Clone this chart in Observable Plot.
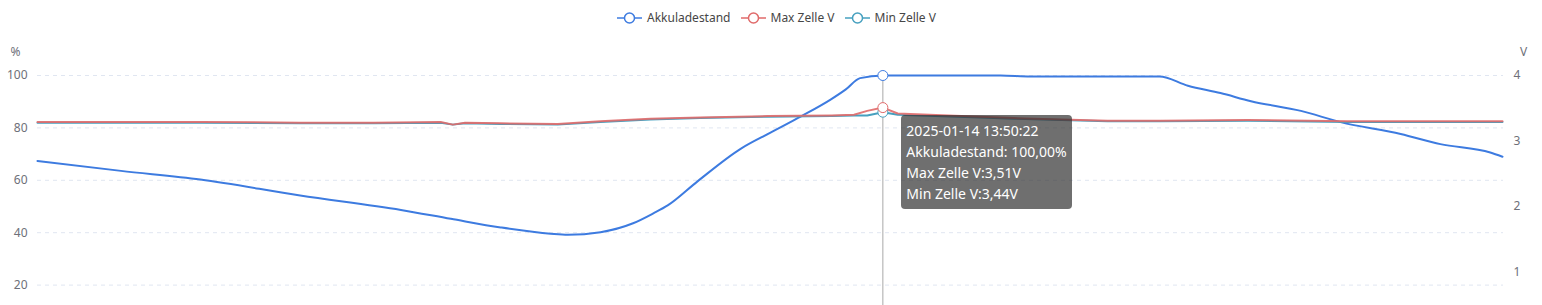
<!DOCTYPE html>
<html>
<head>
<meta charset="utf-8">
<script src="https://cdn.jsdelivr.net/npm/d3@7"></script>
<script src="https://cdn.jsdelivr.net/npm/@observablehq/plot@0.6"></script>
<style>
  html, body { margin: 0; padding: 0; background: #fff; overflow: hidden; }
  #wrap { position: relative; width: 1542px; height: 305px; overflow: hidden; font-family: "Noto Sans", "DejaVu Sans", sans-serif; }
  #chart svg { display: block; }
  #legend { position: absolute; top: 9px; left: 617px; display: flex; align-items: center; gap: 10px; font-size: 12px; color: #464646; }
  #legend .item { display: flex; align-items: center; }
  #legend .item span { margin-left: 5px; }
  #tip { position: absolute; background: rgba(50,50,50,0.7); color: #fff; border-radius: 4px; padding: 5px 5px 5px 5px; font-size: 14px; line-height: 21px; white-space: nowrap; }
</style>
</head>
<body>
<div id="wrap">
  <div id="chart"></div>
  <div id="legend"></div>
  <div id="tip"></div>
</div>
<script>
// ---- data ----
const day = "2025-01-14";
const seriesNames = ["Akkuladestand", "Max Zelle V", "Min Zelle V"];
const seriesColors = ["#3d7be0", "#e06a6a", "#46a0bf"];
const leftTicks = [20, 40, 60, 80, 100];   // 0 lies below the visible area
const rightTicks = [1, 2, 3, 4];
const tooltipTime = "13:50:22";

const socTimes = ["00:00","01:22","02:40","04:18","05:57","06:46","07:35","08:24","08:41","09:13","09:45","10:05","10:19","10:48","11:31","12:00","12:30","12:59","13:14","13:28","13:50:22","15:46","16:15","18:22","18:50","19:22","19:52","20:41","21:20","22:19","22:58","23:47","23:59"];
const socValues = [67.4,63.6,60.3,54.2,48.7,45.3,42.0,39.6,39.2,40.2,43.6,47.4,50.4,59.5,72.1,78.2,84.4,90.8,94.7,99.0,100,100,99.6,99.6,96.1,93.3,90.2,86.5,82.2,77.7,73.8,70.6,69.0];

const cellTimes = ["00:00","01:30","02:40","04:18","05:30","06:36","06:48","07:00","07:35","08:31","09:13","10:02","10:51","11:57","13:00","13:22","13:35","13:50:22","14:05","15:26","15:59","17:31","18:23","19:49","21:27","22:40","23:59"];
const maxValues = [3.29,3.29,3.29,3.28,3.28,3.29,3.25,3.28,3.27,3.26,3.30,3.34,3.36,3.38,3.39,3.40,3.46,3.51,3.42,3.37,3.35,3.31,3.31,3.32,3.30,3.30,3.30];
const minValues = [3.28,3.28,3.28,3.27,3.27,3.28,3.25,3.27,3.26,3.25,3.29,3.33,3.35,3.37,3.38,3.39,3.39,3.44,3.40,3.36,3.34,3.30,3.30,3.31,3.29,3.29,3.29];

// ---- build ----
const parse = t => new Date(day + "T" + t + "Z");
const soc = socTimes.map((t, i) => ({t: parse(t), v: socValues[i]}));
const cell = cellTimes.map((t, i) => ({t: parse(t), max: maxValues[i], min: minValues[i]}));
const k = 100 / 4; // right axis: 4 V corresponds to 100 %
const tipT = parse(tooltipTime);
const socTip = soc.filter(d => +d.t === +tipT);
const cellTip = cell.filter(d => +d.t === +tipT);
const [blue, red, teal] = seriesColors;

const plot = Plot.plot({
  width: 1542,
  height: 380,
  marginTop: 75,
  marginBottom: 43,
  marginLeft: 37,
  marginRight: 39,
  style: {fontFamily: "'Noto Sans', 'DejaVu Sans', sans-serif", fontSize: "12px", color: "#6e7079", background: "#fff"},
  x: {type: "utc", domain: [parse("00:00"), new Date(Date.UTC(2025, 0, 15))], axis: null},
  y: {domain: [0, 100]},
  marks: [
    Plot.gridY(leftTicks, {stroke: "#e0e6f1", strokeOpacity: 1, strokeDasharray: "4,4"}),
    Plot.axisY(leftTicks, {anchor: "left", tickSize: 0, tickPadding: 10, label: null, fill: "#6e7079"}),
    Plot.axisY(rightTicks.map(d => d * k), {anchor: "right", tickSize: 0, tickPadding: 10, label: null, tickFormat: d => d / k, fill: "#6e7079"}),
    Plot.ruleY([0], {stroke: "#6e7079"}),
    Plot.text(["%"], {frameAnchor: "top-left", dx: -22, dy: -23, textAnchor: "middle", lineAnchor: "middle", fill: "#6e7079"}),
    Plot.text(["V"], {frameAnchor: "top-right", dx: 20, dy: -23, textAnchor: "middle", lineAnchor: "middle", fill: "#6e7079"}),
    Plot.ruleX([tipT], {stroke: "#a8a8a8", strokeWidth: 1}),
    Plot.lineY(soc, {x: "t", y: "v", stroke: blue, strokeWidth: 2, curve: "monotone-x"}),
    Plot.lineY(cell, {x: "t", y: d => d.min * k, stroke: teal, strokeWidth: 2}),
    Plot.lineY(cell, {x: "t", y: d => d.max * k, stroke: red, strokeWidth: 2, strokeOpacity: 0.9}),
    Plot.dot(socTip, {x: "t", y: "v", r: 5, fill: "white", stroke: blue, strokeWidth: 1}),
    Plot.dot(cellTip, {x: "t", y: d => d.min * k, r: 5, fill: "white", stroke: teal, strokeWidth: 1}),
    Plot.dot(cellTip, {x: "t", y: d => d.max * k, r: 5, fill: "white", stroke: red, strokeWidth: 1})
  ]
});
document.getElementById("chart").appendChild(plot);

// legend
const legend = document.getElementById("legend");
seriesNames.forEach((name, i) => {
  const item = document.createElement("div");
  item.className = "item";
  item.innerHTML = `<svg width="25" height="14"><line x1="0" x2="25" y1="7" y2="7" stroke="${seriesColors[i]}" stroke-width="1.5"/><circle cx="12.5" cy="7" r="5" fill="#fff" stroke="${seriesColors[i]}" stroke-width="1.5"/></svg><span>${name}</span>`;
  legend.appendChild(item);
});

// tooltip
const de = (v, n) => v.toFixed(n).replace(".", ",");
const tip = document.getElementById("tip");
tip.innerHTML = [
  `${day} ${tooltipTime}`,
  `${seriesNames[0]}: ${de(socTip[0].v, 2)}%`,
  `${seriesNames[1]}:${de(cellTip[0].max, 2)}V`,
  `${seriesNames[2]}:${de(cellTip[0].min, 2)}V`
].join("<br>");
tip.style.left = (plot.scale("x").apply(tipT) + 19) + "px";
tip.style.top = "115px";
</script>
</body>
</html>
